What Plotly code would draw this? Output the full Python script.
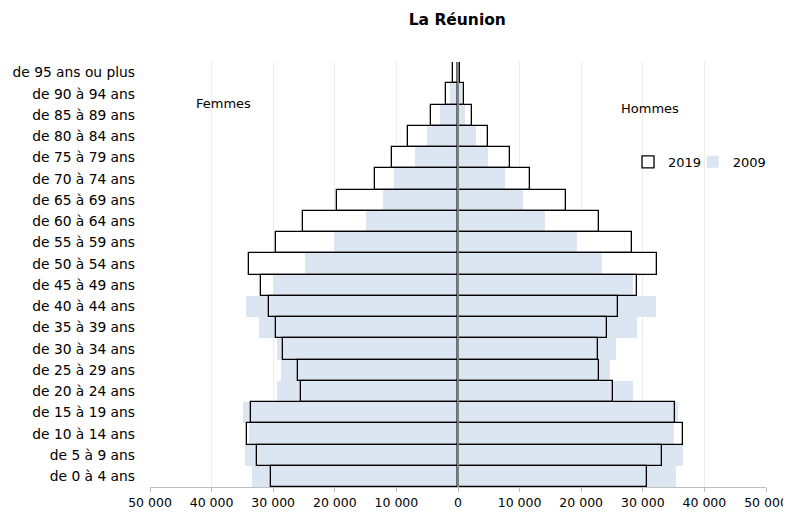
import plotly.graph_objects as go

age_groups = ["de 0 à 4 ans", "de 5 à 9 ans", "de 10 à 14 ans", "de 15 à 19 ans",
              "de 20 à 24 ans", "de 25 à 29 ans", "de 30 à 34 ans", "de 35 à 39 ans",
              "de 40 à 44 ans", "de 45 à 49 ans", "de 50 à 54 ans", "de 55 à 59 ans",
              "de 60 à 64 ans", "de 65 à 69 ans", "de 70 à 74 ans", "de 75 à 79 ans",
              "de 80 à 84 ans", "de 85 à 89 ans", "de 90 à 94 ans", "de 95 ans ou plus"]

femmes_2019 = [30370, 32640, 34310, 33610, 25560, 26000, 28480, 29610, 30740, 32040,
               33940, 29560, 25230, 19720, 13450, 10650, 8170, 4380, 1940, 800]
hommes_2019 = [30730, 33160, 36570, 35270, 25220, 22950, 22740, 24250, 25930, 29110,
               32250, 28200, 22900, 17600, 11720, 8360, 4860, 2270, 900, 250]
femmes_2009 = [33500, 34590, 33870, 34960, 29340, 28800, 29450, 32310, 34420, 30100,
               24910, 20050, 14860, 12220, 10320, 6920, 5020, 2870, 1360, 400]
hommes_2009 = [35330, 36470, 35110, 35700, 28460, 24680, 25660, 29010, 32090, 28460,
               23390, 19330, 14100, 10630, 7670, 4800, 2920, 1180, 650, 150]

tick_vals = [-50000, -40000, -30000, -20000, -10000, 0, 10000, 20000, 30000, 40000, 50000]
tick_text = ["50 000", "40 000", "30 000", "20 000", "10 000", "0",
             "10 000", "20 000", "30 000", "40 000", "50 000"]

FONT = "DejaVu Sans"
BLUE = "#dce6f2"

fig = go.Figure()
# white fill of 2019 bars (bottom layer)
fig.add_trace(go.Bar(y=age_groups, x=[-v for v in femmes_2019], orientation="h", showlegend=False,
                     marker=dict(color="white", line=dict(width=0)), hoverinfo="skip"))
fig.add_trace(go.Bar(y=age_groups, x=hommes_2019, orientation="h", showlegend=False,
                     marker=dict(color="white", line=dict(width=0)), hoverinfo="skip"))
# 2009 bars
fig.add_trace(go.Bar(y=age_groups, x=[-v for v in femmes_2009], orientation="h",
                     name="2009", legendgroup="2009", legend="legend2",
                     marker=dict(color=BLUE, line=dict(width=0))))
fig.add_trace(go.Bar(y=age_groups, x=hommes_2009, orientation="h",
                     name="2009", legendgroup="2009", showlegend=False, legend="legend2",
                     marker=dict(color=BLUE, line=dict(width=0))))
# 2019 outlines
fig.add_trace(go.Bar(y=age_groups, x=[-v for v in femmes_2019], orientation="h",
                     name="2019", legendgroup="2019",
                     marker=dict(color="rgba(255,255,255,0)", line=dict(color="black", width=1.3))))
fig.add_trace(go.Bar(y=age_groups, x=hommes_2019, orientation="h",
                     name="2019", legendgroup="2019", showlegend=False,
                     marker=dict(color="rgba(255,255,255,0)", line=dict(color="black", width=1.3))))

fig.add_shape(type="line", x0=0, x1=0, y0=0, y1=1, xref="x", yref="paper",
              line=dict(color="#808080", width=2), layer="above")

fig.add_annotation(text="Femmes", x=-38000, y=0.924, xref="x", yref="paper",
                   showarrow=False, font=dict(family=FONT, size=13, color="black"))
fig.add_annotation(text="Hommes", x=31100, y=0.914, xref="x", yref="paper",
                   showarrow=False, font=dict(family=FONT, size=13, color="black"))

legend_common = dict(orientation="h", y=0.765, xanchor="left", yanchor="middle",
                     bgcolor="rgba(0,0,0,0)", font=dict(family=FONT, size=13), itemwidth=30)

fig.update_layout(
    width=791, height=518,
    margin=dict(l=142, r=33, t=54, b=39, autoexpand=False),
    paper_bgcolor="white", plot_bgcolor="white",
    barmode="overlay", bargap=0,
    title=dict(text="<b>La Réunion</b>", x=0.568, xanchor="center", y=0.977, yanchor="middle",
               font=dict(family=FONT, size=15.5, color="black")),
    font=dict(family=FONT, size=12, color="black"),
    legend=dict(x=0.776, **legend_common),
    legend2=dict(x=0.881, **legend_common),
    xaxis=dict(range=[-50000, 50000], tickvals=tick_vals, ticktext=tick_text,
               showgrid=True, gridcolor="#efece1", gridwidth=1, zeroline=False,
               showline=True, linecolor="#bfbfbf", linewidth=1,
               ticks="outside", ticklen=4, tickcolor="#bfbfbf", automargin=False,
               tickfont=dict(family=FONT, size=12.5)),
    yaxis=dict(categoryorder="array", categoryarray=age_groups, showgrid=False,
               zeroline=False, showline=False, ticks="", ticklabelstandoff=14,
               automargin=False, tickfont=dict(family=FONT, size=13.8)),
)

fig.write_html("out.html")
